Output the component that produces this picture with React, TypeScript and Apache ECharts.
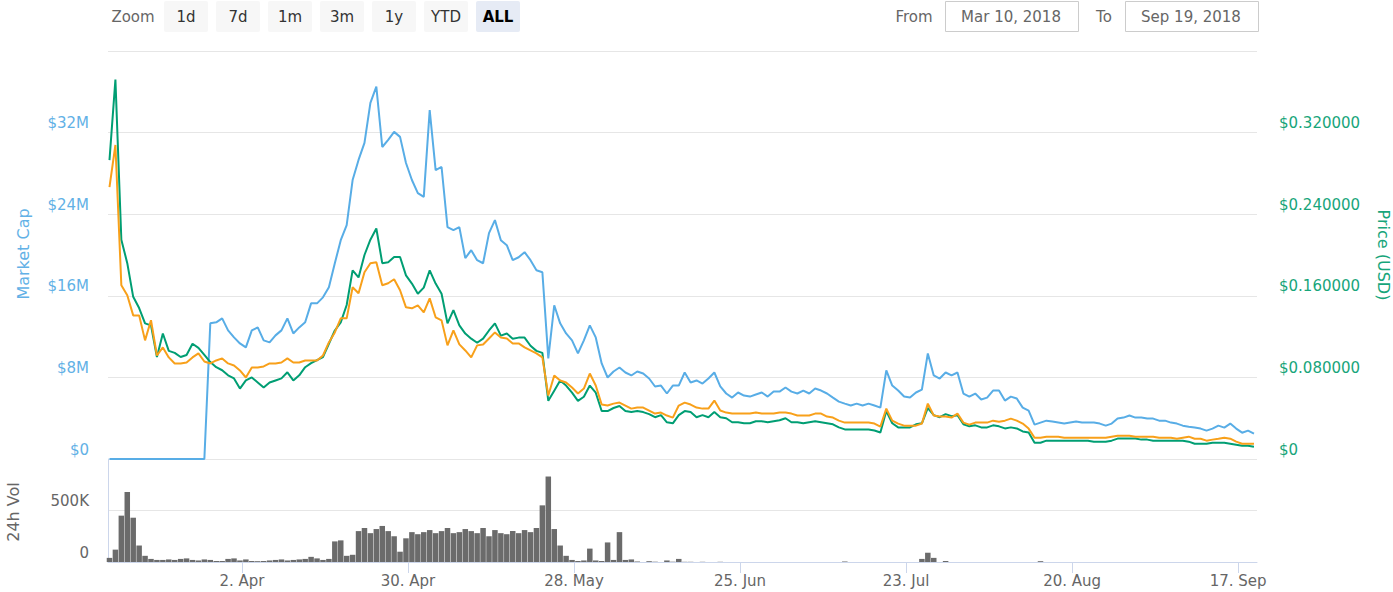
import React, { useEffect, useRef } from 'react';
import * as echarts from 'echarts';

// ---- data (daily samples from 10 Mar 2018 to 19 Sep 2018) ----
const firstSampleUtc = Date.UTC(2018, 2, 10, 16, 0);
const dayMs = 86400000;
const axisMinUtc = Date.UTC(2018, 2, 10, 10, 0);
const axisMaxUtc = Date.UTC(2018, 8, 20, 4, 15);

const tickDates = ['2018-04-02', '2018-04-30', '2018-05-28', '2018-06-25', '2018-07-23', '2018-08-20', '2018-09-17'];
const monthNames = ['Jan', 'Feb', 'Mar', 'Apr', 'May', 'Jun', 'Jul', 'Aug', 'Sep', 'Oct', 'Nov', 'Dec'];

// Market cap, millions USD
const marketCapM = [
  0, 0, 0, 0, 0, 0, 0, 0, 0, 0,
  0, 0, 0, 0, 0, 0, 0, 13.30, 13.40, 13.79,
  12.61, 11.92, 11.33, 10.94, 12.61, 12.90, 11.63, 11.43, 12.12, 12.61,
  13.79, 12.31, 12.90, 13.40, 15.26, 15.26, 15.85, 16.84, 19.19, 21.45,
  22.93, 27.35, 29.32, 30.99, 34.92, 36.50, 30.59, 31.28, 32.07, 31.58,
  29.02, 27.35, 26.07, 25.70, 34.20, 28.33, 28.63, 22.73, 22.44, 22.73,
  19.69, 20.47, 19.49, 19.19, 22.14, 23.42, 21.45, 20.96, 19.49, 19.78,
  20.28, 19.49, 18.51, 18.31, 9.86, 15.07, 13.30, 12.31, 11.63, 10.35,
  11.63, 13.10, 11.92, 9.37, 7.99, 8.58, 8.97, 8.48, 8.19, 8.58,
  8.38, 7.89, 7.11, 7.20, 6.42, 7.20, 7.20, 8.48, 7.50, 7.70,
  7.40, 7.89, 8.48, 7.11, 6.42, 6.02, 6.52, 6.22, 6.12, 6.32,
  6.52, 6.12, 6.61, 6.61, 7.01, 6.61, 6.42, 6.71, 6.42, 6.91,
  6.71, 6.42, 6.02, 5.63, 5.43, 5.24, 5.43, 5.24, 5.43, 5.24,
  5.04, 8.68, 7.20, 6.71, 6.12, 6.02, 6.52, 6.81, 10.35, 8.19,
  7.89, 8.48, 8.19, 8.48, 6.42, 6.12, 6.42, 5.83, 6.02, 6.71,
  6.71, 5.73, 6.12, 5.93, 5.04, 4.75, 3.37, 3.57, 3.76, 3.67,
  3.57, 3.47, 3.57, 3.67, 3.57, 3.57, 3.57, 3.47, 3.27, 3.47,
  3.96, 4.06, 4.26, 4.06, 4.06, 3.96, 3.96, 3.76, 3.76, 3.57,
  3.47, 3.27, 3.17, 3.08, 2.98, 2.78, 2.98, 3.27, 3.08, 3.47,
  2.98, 2.58, 2.78, 2.49,
];

// Price, USD
const priceUsd = [
  0.293, 0.372, 0.215, 0.192, 0.159, 0.148, 0.133, 0.131, 0.100, 0.123,
  0.106, 0.104, 0.100, 0.102, 0.113, 0.109, 0.102, 0.095, 0.090, 0.087,
  0.082, 0.079, 0.069, 0.077, 0.080, 0.075, 0.070, 0.075, 0.077, 0.079,
  0.085, 0.077, 0.082, 0.090, 0.094, 0.097, 0.100, 0.113, 0.126, 0.134,
  0.151, 0.185, 0.178, 0.200, 0.215, 0.226, 0.192, 0.193, 0.198, 0.198,
  0.180, 0.172, 0.162, 0.168, 0.185, 0.172, 0.162, 0.133, 0.146, 0.131,
  0.123, 0.118, 0.114, 0.118, 0.126, 0.133, 0.121, 0.123, 0.118, 0.119,
  0.119, 0.111, 0.106, 0.104, 0.057, 0.067, 0.077, 0.072, 0.065, 0.057,
  0.061, 0.072, 0.065, 0.047, 0.047, 0.050, 0.052, 0.047, 0.046, 0.047,
  0.046, 0.044, 0.041, 0.043, 0.036, 0.035, 0.043, 0.047, 0.046, 0.041,
  0.043, 0.041, 0.046, 0.041, 0.040, 0.036, 0.036, 0.035, 0.035, 0.037,
  0.037, 0.036, 0.037, 0.038, 0.040, 0.036, 0.036, 0.035, 0.036, 0.037,
  0.036, 0.035, 0.034, 0.031, 0.029, 0.029, 0.029, 0.029, 0.029, 0.028,
  0.026, 0.047, 0.035, 0.031, 0.031, 0.031, 0.034, 0.035, 0.050, 0.043,
  0.041, 0.044, 0.042, 0.043, 0.034, 0.032, 0.033, 0.031, 0.031, 0.033,
  0.032, 0.030, 0.031, 0.030, 0.027, 0.026, 0.016, 0.016, 0.018, 0.018,
  0.018, 0.018, 0.018, 0.018, 0.018, 0.018, 0.017, 0.017, 0.017, 0.018,
  0.020, 0.020, 0.020, 0.020, 0.019, 0.019, 0.018, 0.018, 0.018, 0.018,
  0.018, 0.018, 0.017, 0.015, 0.015, 0.015, 0.016, 0.016, 0.016, 0.015,
  0.014, 0.013, 0.013, 0.012,
];

// Price, BTC (in satoshi)
const priceBtcSat = [
  2666, 3079, 1703, 1605, 1408, 1408, 1163, 1360, 1015, 1094,
  996, 937, 937, 946, 996, 1035, 956, 937, 966, 986,
  937, 917, 868, 799, 897, 897, 907, 937, 937, 946,
  986, 946, 946, 966, 966, 966, 1015, 1143, 1241, 1379,
  1379, 1684, 1625, 1831, 1919, 1929, 1703, 1723, 1762, 1654,
  1487, 1477, 1507, 1438, 1575, 1389, 1359, 1114, 1261, 1124,
  1064, 996, 1114, 1123, 1182, 1241, 1192, 1182, 1133, 1133,
  1094, 1064, 1035, 996, 622, 819, 770, 750, 701, 642,
  691, 838, 720, 534, 524, 543, 553, 524, 494, 504,
  504, 475, 445, 455, 426, 406, 524, 553, 534, 504,
  494, 494, 573, 475, 455, 445, 445, 445, 445, 455,
  445, 445, 445, 455, 455, 445, 426, 426, 426, 445,
  445, 416, 406, 376, 357, 357, 357, 357, 357, 347,
  317, 494, 376, 347, 327, 327, 327, 347, 543, 426,
  416, 416, 406, 445, 357, 337, 357, 357, 357, 376,
  366, 376, 396, 376, 347, 298, 209, 209, 219, 219,
  219, 209, 209, 209, 209, 209, 209, 209, 209, 219,
  229, 229, 229, 219, 219, 219, 219, 209, 209, 209,
  199, 209, 219, 199, 199, 180, 190, 199, 209, 199,
  170, 150, 150, 150,
];

// 24h volume, thousands USD
const volumeK = [
  40, 120, 450, 680, 430, 160, 60, 30, 20, 20,
  25, 20, 30, 35, 20, 15, 25, 20, 10, 10,
  30, 35, 15, 25, 10, 8, 10, 15, 20, 25,
  15, 20, 25, 30, 50, 35, 20, 30, 200, 210,
  60, 70, 300, 330, 280, 320, 350, 300, 250, 100,
  230, 290, 270, 290, 310, 280, 300, 330, 280, 290,
  320, 300, 280, 330, 250, 310, 280, 270, 300, 280,
  310, 290, 330, 550, 830, 320, 160, 60, 20, 10,
  15, 130, 15, 10, 190, 20, 290, 20, 25, 5,
  0, 8, 3, 0, 15, 3, 30, 2, 2, 0,
  2, 0, 0, 2, 0, 0, 0, 0, 0, 0,
  0, 0, 0, 0, 0, 0, 0, 0, 0, 0,
  0, 0, 0, 0, 5, 0, 0, 0, 0, 0,
  0, 0, 0, 0, 0, 0, 0, 30, 90, 40,
  0, 10, 0, 0, 0, 0, 0, 0, 0, 0,
  0, 0, 0, 0, 0, 0, 0, 8, 0, 0,
  0, 0, 0, 0, 0, 0, 0, 0, 0, 0,
  0, 0, 0, 0, 0, 0, 0, 0, 0, 0,
  0, 0, 0, 0, 0, 0, 0, 0, 0, 0,
  0, 0, 0, 0,
];

const zoomButtons = ['1d', '7d', '1m', '3m', '1y', 'YTD', 'ALL'];
const fromDateText = 'Mar 10, 2018';
const toDateText = 'Sep 19, 2018';

const FONT = '"DejaVu Sans", "Noto Sans", sans-serif';
const BLUE = '#58ade6';
const GREEN = '#009e73';
const ORANGE = '#f8a01a';
const BLUE_LABEL = '#62b1e6';
const GREEN_LABEL = '#17a57a';

const toSeries = (arr: number[]) => arr.map((v, i) => [firstSampleUtc + i * dayMs, v]);

function buildOption() {
  const tickValues = tickDates.map((d) => Date.parse(d + 'T00:00:00Z'));
  const fmtDate = (v: number) => {
    const d = new Date(v);
    return `${d.getUTCDate()}. ${monthNames[d.getUTCMonth()]}`;
  };
  const labelStyleBase = { fontFamily: FONT, fontSize: 15 };
  const center = { align: 'center', verticalAlign: 'middle', textAlign: 'center', textVerticalAlign: 'middle' };

  const graphics: any[] = [];
  graphics.push({
    type: 'text', x: 133, y: 17,
    style: { text: 'Zoom', fill: '#666666', font: `15px ${FONT}`, ...center },
  });
  zoomButtons.forEach((b, i) => {
    const x0 = 164 + i * 52;
    const selected = b === 'ALL';
    graphics.push({
      type: 'rect', shape: { x: x0, y: 1, width: 44, height: 31, r: 2 },
      style: { fill: selected ? '#e6ebf5' : '#f7f7f7' },
    });
    graphics.push({
      type: 'text', x: x0 + 22, y: 17,
      style: {
        text: b, fill: selected ? '#000000' : '#333333',
        font: `${selected ? 'bold ' : ''}15px ${FONT}`, ...center,
      },
    });
  });
  graphics.push({
    type: 'text', x: 914, y: 17,
    style: { text: 'From', fill: '#666666', font: `15px ${FONT}`, ...center },
  });
  graphics.push({
    type: 'rect', shape: { x: 945.5, y: 1.5, width: 133, height: 30 },
    style: { fill: '#ffffff', stroke: '#cccccc', lineWidth: 1 },
  });
  graphics.push({
    type: 'text', x: 1011, y: 17,
    style: { text: fromDateText, fill: '#666666', font: `15px ${FONT}`, ...center },
  });
  graphics.push({
    type: 'text', x: 1104, y: 17,
    style: { text: 'To', fill: '#666666', font: `15px ${FONT}`, ...center },
  });
  graphics.push({
    type: 'rect', shape: { x: 1125.5, y: 1.5, width: 133, height: 30 },
    style: { fill: '#ffffff', stroke: '#cccccc', lineWidth: 1 },
  });
  graphics.push({
    type: 'text', x: 1191, y: 17,
    style: { text: toDateText, fill: '#666666', font: `15px ${FONT}`, ...center },
  });
  graphics.push({
    type: 'text', x: 23, y: 254, rotation: Math.PI / 2,
    style: { text: 'Market Cap', fill: BLUE_LABEL, font: `16px ${FONT}`, ...center },
  });
  graphics.push({
    type: 'text', x: 1383, y: 255, rotation: -Math.PI / 2,
    style: { text: 'Price (USD)', fill: GREEN_LABEL, font: `16px ${FONT}`, ...center },
  });
  graphics.push({
    type: 'text', x: 13, y: 512, rotation: Math.PI / 2,
    style: { text: '24h Vol', fill: '#666666', font: `16px ${FONT}`, ...center },
  });

  return {
    animation: false,
    backgroundColor: '#ffffff',
    graphic: { elements: graphics },
    grid: [
      { left: 108, right: 136, top: 51, height: 408 },
      { left: 108, right: 136, top: 459, height: 103 },
    ],
    xAxis: [
      {
        type: 'value', gridIndex: 0, min: axisMinUtc, max: axisMaxUtc, show: false,
        splitLine: { show: false },
      },
      {
        type: 'value', gridIndex: 1, min: axisMinUtc, max: axisMaxUtc,
        axisLine: { show: true, lineStyle: { color: '#ccd6eb', width: 1 } },
        axisTick: { show: true, length: 11, lineStyle: { color: '#ccd6eb' }, customValues: tickValues },
        axisLabel: { ...labelStyleBase, color: '#666666', margin: 11, customValues: tickValues, formatter: fmtDate },
        splitLine: { show: false },
      },
    ],
    yAxis: [
      {
        type: 'value', gridIndex: 0, position: 'left', min: 0, max: 40, interval: 8,
        axisLine: { show: false }, axisTick: { show: false },
        axisLabel: {
          ...labelStyleBase, color: BLUE_LABEL, margin: 19, showMaxLabel: false,
          verticalAlign: 'bottom', padding: [0, 0, 2, 0],
          formatter: (v: number) => (v === 0 ? '$0' : `$${v}M`),
        },
        splitLine: { show: true, lineStyle: { color: '#e6e6e6', width: 1 } },
      },
      {
        type: 'value', gridIndex: 0, position: 'right', min: 0, max: 0.4, interval: 0.08,
        axisLine: { show: false }, axisTick: { show: false },
        axisLabel: {
          ...labelStyleBase, color: GREEN_LABEL, margin: 22, showMaxLabel: false,
          verticalAlign: 'bottom', padding: [0, 0, 2, 0],
          formatter: (v: number) => (v === 0 ? '$0' : '$' + v.toFixed(6)),
        },
        splitLine: { show: false },
      },
      {
        type: 'value', gridIndex: 0, min: 0, max: 4000, show: false,
        splitLine: { show: false },
      },
      {
        type: 'value', gridIndex: 1, position: 'left', min: 0, max: 1000, interval: 500,
        axisLine: { show: true, lineStyle: { color: '#ccd6eb' } }, axisTick: { show: false },
        axisLabel: {
          ...labelStyleBase, color: '#666666', margin: 19, showMaxLabel: false,
          verticalAlign: 'bottom', padding: [0, 0, 2, 0],
          formatter: (v: number) => (v === 0 ? '0' : `${v}K`),
        },
        splitLine: { show: true, lineStyle: { color: '#e6e6e6', width: 1 } },
      },
    ],
    series: [
      {
        name: 'Market Cap', type: 'line', xAxisIndex: 0, yAxisIndex: 0,
        data: toSeries(marketCapM), showSymbol: false, symbol: 'none',
        lineStyle: { color: BLUE, width: 2 }, itemStyle: { color: BLUE },
      },
      {
        name: 'Price (USD)', type: 'line', xAxisIndex: 0, yAxisIndex: 1,
        data: toSeries(priceUsd), showSymbol: false, symbol: 'none',
        lineStyle: { color: GREEN, width: 2 }, itemStyle: { color: GREEN },
      },
      {
        name: 'Price (BTC)', type: 'line', xAxisIndex: 0, yAxisIndex: 2,
        data: toSeries(priceBtcSat), showSymbol: false, symbol: 'none',
        lineStyle: { color: ORANGE, width: 2 }, itemStyle: { color: ORANGE },
      },
      {
        name: '24h Vol', type: 'bar', xAxisIndex: 1, yAxisIndex: 3,
        data: toSeries(volumeK), barWidth: 5.5,
        itemStyle: { color: '#6b6b6b' },
      },
    ],
  };
}

export default function App() {
  const ref = useRef<HTMLDivElement>(null);
  useEffect(() => {
    document.body.style.margin = '0';
    if (!ref.current) return;
    const chart = echarts.init(ref.current, undefined, { renderer: 'svg' });
    chart.setOption(buildOption() as any);
    return () => chart.dispose();
  }, []);
  return <div ref={ref} style={{ width: 1393, height: 592 }} />;
}
